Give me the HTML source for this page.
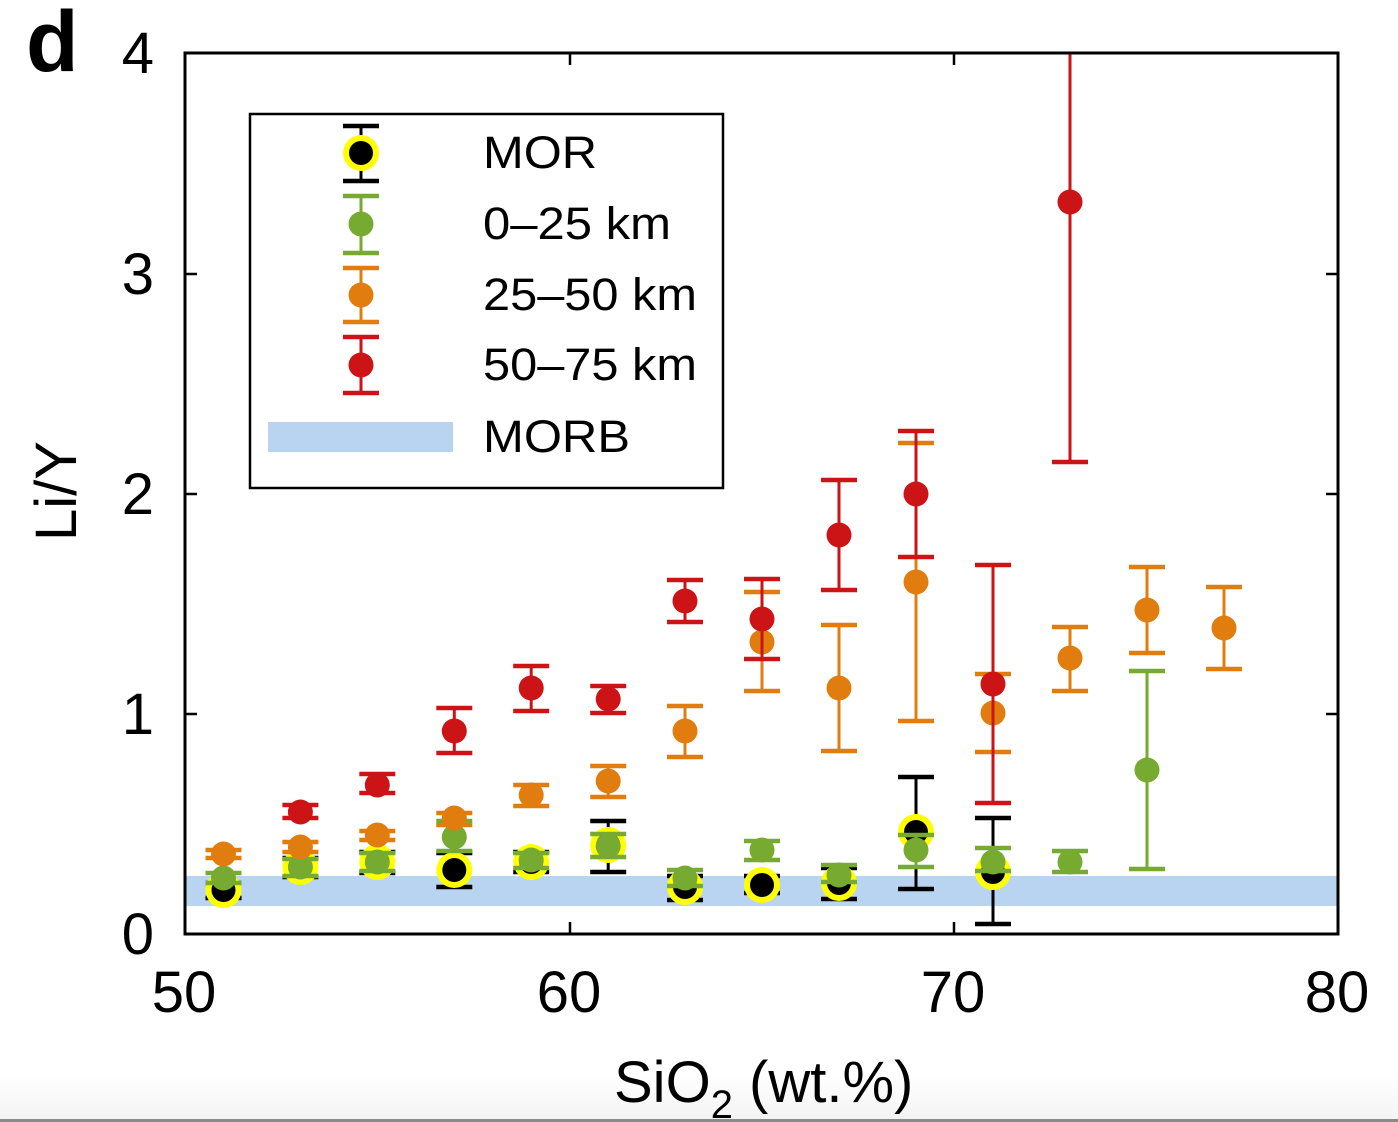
<!DOCTYPE html>
<html><head><meta charset="utf-8"><style>
html,body{margin:0;padding:0;background:#fff;}
svg{display:block;}
text{font-family:"Liberation Sans",Arial,sans-serif;fill:#000;}
</style></head><body>
<svg width="1398" height="1122" viewBox="0 0 1398 1122" xmlns="http://www.w3.org/2000/svg">
<defs>
<linearGradient id="bg" x1="0" y1="0" x2="0" y2="1"><stop offset="0" stop-color="#fff"/><stop offset="1" stop-color="#f4f4f4"/></linearGradient>
</defs>
<rect x="0" y="0" width="1398" height="1122" fill="#fff"/>
<rect x="0" y="1075" width="1398" height="44" fill="url(#bg)"/>
<rect x="0" y="1119" width="1398" height="3" fill="#8a8a8a"/>

<!-- MORB band -->
<rect x="186" y="876" width="1152" height="30" fill="#b9d4f1"/>

<!-- MOR -->
<g>
<g stroke="#000" stroke-width="3"><line x1="223.5" y1="883" x2="223.5" y2="898"/><line x1="300.4" y1="858" x2="300.4" y2="877"/><line x1="377.3" y1="852" x2="377.3" y2="873"/><line x1="454.3" y1="853" x2="454.3" y2="887"/><line x1="531.2" y1="852" x2="531.2" y2="872"/><line x1="608.2" y1="821" x2="608.2" y2="872"/><line x1="685" y1="876" x2="685" y2="900"/><line x1="762" y1="876" x2="762" y2="893"/><line x1="839" y1="868" x2="839" y2="899"/><line x1="916" y1="777" x2="916" y2="889"/><line x1="993" y1="818" x2="993" y2="924"/></g>
<g stroke="#000" stroke-width="4.5">
<line x1="205.5" y1="883" x2="241.5" y2="883"/><line x1="205.5" y1="898" x2="241.5" y2="898"/>
<line x1="282.4" y1="858" x2="318.4" y2="858"/><line x1="282.4" y1="877" x2="318.4" y2="877"/>
<line x1="359.3" y1="852" x2="395.3" y2="852"/><line x1="359.3" y1="873" x2="395.3" y2="873"/>
<line x1="436.3" y1="853" x2="472.3" y2="853"/><line x1="436.3" y1="887" x2="472.3" y2="887"/>
<line x1="513.2" y1="852" x2="549.2" y2="852"/><line x1="513.2" y1="872" x2="549.2" y2="872"/>
<line x1="590.2" y1="821" x2="626.2" y2="821"/><line x1="590.2" y1="872" x2="626.2" y2="872"/>
<line x1="667" y1="876" x2="703" y2="876"/><line x1="667" y1="900" x2="703" y2="900"/>
<line x1="744" y1="876" x2="780" y2="876"/><line x1="744" y1="893" x2="780" y2="893"/>
<line x1="821" y1="868" x2="857" y2="868"/><line x1="821" y1="899" x2="857" y2="899"/>
<line x1="898" y1="777" x2="934" y2="777"/><line x1="898" y1="889" x2="934" y2="889"/>
<line x1="975" y1="818" x2="1011" y2="818"/><line x1="975" y1="924" x2="1011" y2="924"/>
</g>
<g fill="#ffff00"><circle cx="223.5" cy="890" r="18"/><circle cx="300.4" cy="867" r="18"/><circle cx="377.3" cy="862" r="18"/><circle cx="454.3" cy="870" r="18"/><circle cx="531.2" cy="862" r="18"/><circle cx="608.2" cy="845" r="18"/><circle cx="685" cy="887" r="18"/><circle cx="762" cy="885" r="18"/><circle cx="839" cy="883" r="18"/><circle cx="916" cy="832" r="18"/><circle cx="993" cy="872" r="18"/></g>
<g fill="#000"><circle cx="223.5" cy="890" r="12"/><circle cx="300.4" cy="867" r="12"/><circle cx="377.3" cy="862" r="12"/><circle cx="454.3" cy="870" r="12"/><circle cx="531.2" cy="862" r="12"/><circle cx="608.2" cy="845" r="12"/><circle cx="685" cy="887" r="12"/><circle cx="762" cy="885" r="12"/><circle cx="839" cy="883" r="12"/><circle cx="916" cy="832" r="12"/><circle cx="993" cy="872" r="12"/></g>
</g>

<!-- Green 0-25 -->
<g stroke="#76aa30" fill="#76aa30">
<g stroke-width="3"><line x1="223.5" y1="873" x2="223.5" y2="883"/><line x1="300.4" y1="859" x2="300.4" y2="876"/><line x1="377.3" y1="853" x2="377.3" y2="871"/><line x1="454.3" y1="821" x2="454.3" y2="851"/><line x1="531.2" y1="853" x2="531.2" y2="868"/><line x1="608.2" y1="834" x2="608.2" y2="857"/><line x1="685" y1="870" x2="685" y2="886"/><line x1="762" y1="841" x2="762" y2="860"/><line x1="839" y1="865" x2="839" y2="882"/><line x1="916" y1="835" x2="916" y2="867"/><line x1="993" y1="848" x2="993" y2="871"/><line x1="1070" y1="851" x2="1070" y2="872"/><line x1="1147" y1="671" x2="1147" y2="869"/></g>
<g stroke-width="4.5">
<line x1="205.5" y1="873" x2="241.5" y2="873"/><line x1="205.5" y1="883" x2="241.5" y2="883"/>
<line x1="282.4" y1="859" x2="318.4" y2="859"/><line x1="282.4" y1="876" x2="318.4" y2="876"/>
<line x1="359.3" y1="853" x2="395.3" y2="853"/><line x1="359.3" y1="871" x2="395.3" y2="871"/>
<line x1="436.3" y1="821" x2="472.3" y2="821"/><line x1="436.3" y1="851" x2="472.3" y2="851"/>
<line x1="513.2" y1="853" x2="549.2" y2="853"/><line x1="513.2" y1="868" x2="549.2" y2="868"/>
<line x1="590.2" y1="834" x2="626.2" y2="834"/><line x1="590.2" y1="857" x2="626.2" y2="857"/>
<line x1="667" y1="870" x2="703" y2="870"/><line x1="667" y1="886" x2="703" y2="886"/>
<line x1="744" y1="841" x2="780" y2="841"/><line x1="744" y1="860" x2="780" y2="860"/>
<line x1="821" y1="865" x2="857" y2="865"/><line x1="821" y1="882" x2="857" y2="882"/>
<line x1="898" y1="835" x2="934" y2="835"/><line x1="898" y1="867" x2="934" y2="867"/>
<line x1="975" y1="848" x2="1011" y2="848"/><line x1="975" y1="871" x2="1011" y2="871"/>
<line x1="1052" y1="851" x2="1088" y2="851"/><line x1="1052" y1="872" x2="1088" y2="872"/>
<line x1="1129" y1="671" x2="1165" y2="671"/><line x1="1129" y1="869" x2="1165" y2="869"/>
</g>
<g stroke="none"><circle cx="223.5" cy="878" r="12.5"/><circle cx="300.4" cy="867" r="12.5"/><circle cx="377.3" cy="862" r="12.5"/><circle cx="454.3" cy="837" r="12.5"/><circle cx="531.2" cy="860" r="12.5"/><circle cx="608.2" cy="846" r="12.5"/><circle cx="685" cy="878" r="12.5"/><circle cx="762" cy="850" r="12.5"/><circle cx="839" cy="875" r="12.5"/><circle cx="916" cy="850" r="12.5"/><circle cx="993" cy="862" r="12.5"/><circle cx="1070" cy="862" r="12.5"/><circle cx="1147" cy="770" r="12.5"/></g>
</g>

<!-- Orange 25-50 -->
<g stroke="#e07d0e" fill="#e07d0e">
<g stroke-width="3"><line x1="223.5" y1="850" x2="223.5" y2="858"/><line x1="300.4" y1="842" x2="300.4" y2="852"/><line x1="377.3" y1="831" x2="377.3" y2="840"/><line x1="454.3" y1="813" x2="454.3" y2="825"/><line x1="531.2" y1="785" x2="531.2" y2="806"/><line x1="608.2" y1="766" x2="608.2" y2="797"/><line x1="685" y1="706" x2="685" y2="757"/><line x1="762" y1="592" x2="762" y2="691"/><line x1="839" y1="625" x2="839" y2="751"/><line x1="916" y1="443" x2="916" y2="721"/><line x1="993" y1="674" x2="993" y2="752"/><line x1="1070" y1="627" x2="1070" y2="691"/><line x1="1147" y1="567" x2="1147" y2="653"/><line x1="1224" y1="587" x2="1224" y2="669"/></g>
<g stroke-width="4.5">
<line x1="205.5" y1="850" x2="241.5" y2="850"/><line x1="205.5" y1="858" x2="241.5" y2="858"/>
<line x1="282.4" y1="842" x2="318.4" y2="842"/><line x1="282.4" y1="852" x2="318.4" y2="852"/>
<line x1="359.3" y1="831" x2="395.3" y2="831"/><line x1="359.3" y1="840" x2="395.3" y2="840"/>
<line x1="436.3" y1="813" x2="472.3" y2="813"/><line x1="436.3" y1="825" x2="472.3" y2="825"/>
<line x1="513.2" y1="785" x2="549.2" y2="785"/><line x1="513.2" y1="806" x2="549.2" y2="806"/>
<line x1="590.2" y1="766" x2="626.2" y2="766"/><line x1="590.2" y1="797" x2="626.2" y2="797"/>
<line x1="667" y1="706" x2="703" y2="706"/><line x1="667" y1="757" x2="703" y2="757"/>
<line x1="744" y1="592" x2="780" y2="592"/><line x1="744" y1="691" x2="780" y2="691"/>
<line x1="821" y1="625" x2="857" y2="625"/><line x1="821" y1="751" x2="857" y2="751"/>
<line x1="898" y1="443" x2="934" y2="443"/><line x1="898" y1="721" x2="934" y2="721"/>
<line x1="975" y1="674" x2="1011" y2="674"/><line x1="975" y1="752" x2="1011" y2="752"/>
<line x1="1052" y1="627" x2="1088" y2="627"/><line x1="1052" y1="691" x2="1088" y2="691"/>
<line x1="1129" y1="567" x2="1165" y2="567"/><line x1="1129" y1="653" x2="1165" y2="653"/>
<line x1="1206" y1="587" x2="1242" y2="587"/><line x1="1206" y1="669" x2="1242" y2="669"/>
</g>
<g stroke="none"><circle cx="223.5" cy="854" r="12.5"/><circle cx="300.4" cy="847" r="12.5"/><circle cx="377.3" cy="835" r="12.5"/><circle cx="454.3" cy="818" r="12.5"/><circle cx="531.2" cy="795" r="12.5"/><circle cx="608.2" cy="781" r="12.5"/><circle cx="685" cy="731" r="12.5"/><circle cx="762" cy="642" r="12.5"/><circle cx="839" cy="688" r="12.5"/><circle cx="916" cy="582" r="12.5"/><circle cx="993" cy="713" r="12.5"/><circle cx="1070" cy="658" r="12.5"/><circle cx="1147" cy="610" r="12.5"/><circle cx="1224" cy="628" r="12.5"/></g>
</g>

<!-- Red 50-75 -->
<g stroke="#cc1316" fill="#cc1316">
<g stroke-width="3"><line x1="300.4" y1="805" x2="300.4" y2="818"/><line x1="377.3" y1="774" x2="377.3" y2="793"/><line x1="454.3" y1="708" x2="454.3" y2="753"/><line x1="531.2" y1="666" x2="531.2" y2="711"/><line x1="608.2" y1="686" x2="608.2" y2="713"/><line x1="685" y1="580" x2="685" y2="622"/><line x1="762" y1="579" x2="762" y2="659"/><line x1="839" y1="480" x2="839" y2="590"/><line x1="916" y1="431" x2="916" y2="557"/><line x1="993" y1="565" x2="993" y2="803"/><line x1="1070" y1="53" x2="1070" y2="462"/></g>
<g stroke-width="4.5">
<line x1="282.4" y1="805" x2="318.4" y2="805"/><line x1="282.4" y1="818" x2="318.4" y2="818"/>
<line x1="359.3" y1="774" x2="395.3" y2="774"/><line x1="359.3" y1="793" x2="395.3" y2="793"/>
<line x1="436.3" y1="708" x2="472.3" y2="708"/><line x1="436.3" y1="753" x2="472.3" y2="753"/>
<line x1="513.2" y1="666" x2="549.2" y2="666"/><line x1="513.2" y1="711" x2="549.2" y2="711"/>
<line x1="590.2" y1="686" x2="626.2" y2="686"/><line x1="590.2" y1="713" x2="626.2" y2="713"/>
<line x1="667" y1="580" x2="703" y2="580"/><line x1="667" y1="622" x2="703" y2="622"/>
<line x1="744" y1="579" x2="780" y2="579"/><line x1="744" y1="659" x2="780" y2="659"/>
<line x1="821" y1="480" x2="857" y2="480"/><line x1="821" y1="590" x2="857" y2="590"/>
<line x1="898" y1="431" x2="934" y2="431"/><line x1="898" y1="557" x2="934" y2="557"/>
<line x1="975" y1="565" x2="1011" y2="565"/><line x1="975" y1="803" x2="1011" y2="803"/>
<line x1="1052" y1="462" x2="1088" y2="462"/>
</g>
<g stroke="none"><circle cx="300.4" cy="812" r="12.5"/><circle cx="377.3" cy="785" r="12.5"/><circle cx="454.3" cy="731" r="12.5"/><circle cx="531.2" cy="688" r="12.5"/><circle cx="608.2" cy="699" r="12.5"/><circle cx="685" cy="601" r="12.5"/><circle cx="762" cy="619" r="12.5"/><circle cx="839" cy="535" r="12.5"/><circle cx="916" cy="494" r="12.5"/><circle cx="993" cy="684" r="12.5"/><circle cx="1070" cy="202" r="12.5"/></g>
</g>

<!-- Axes frame -->
<rect x="185" y="53" width="1153" height="881" fill="none" stroke="#000" stroke-width="3"/>
<g stroke="#000" stroke-width="2.5">
<line x1="570" y1="934" x2="570" y2="922"/><line x1="954" y1="934" x2="954" y2="922"/>
<line x1="570" y1="53" x2="570" y2="65"/><line x1="954" y1="53" x2="954" y2="65"/>
<line x1="185" y1="274" x2="197" y2="274"/><line x1="185" y1="494" x2="197" y2="494"/><line x1="185" y1="714" x2="197" y2="714"/>
<line x1="1338" y1="274" x2="1326" y2="274"/><line x1="1338" y1="494" x2="1326" y2="494"/><line x1="1338" y1="714" x2="1326" y2="714"/>
</g>

<!-- Tick labels -->
<g font-size="58" text-anchor="end">
<text x="154" y="73">4</text>
<text x="154" y="294">3</text>
<text x="154" y="514">2</text>
<text x="154" y="734">1</text>
<text x="154" y="954">0</text>
</g>
<g font-size="58" text-anchor="middle">
<text x="184" y="1012">50</text>
<text x="569" y="1012">60</text>
<text x="953" y="1012">70</text>
<text x="1337" y="1012">80</text>
</g>

<!-- Axis titles -->
<text x="614" y="1102" font-size="58">SiO<tspan font-size="40" dy="16">2</tspan><tspan dy="-16"> (wt.%)</tspan></text>
<text transform="translate(76,491) rotate(-90)" font-size="58" text-anchor="middle">Li/Y</text>
<text x="26" y="71" font-size="86" font-weight="bold">d</text>

<!-- Legend -->
<rect x="250" y="114" width="473" height="374" fill="#fff" stroke="#000" stroke-width="2.5"/>
<g stroke="#000"><line x1="361" y1="126" x2="361" y2="181" stroke-width="3"/><line x1="343" y1="126" x2="379" y2="126" stroke-width="4.5"/><line x1="343" y1="181" x2="379" y2="181" stroke-width="4.5"/></g>
<circle cx="361" cy="153" r="18" fill="#ffff00"/><circle cx="361" cy="153" r="12" fill="#000"/>
<g stroke="#76aa30"><line x1="361" y1="196" x2="361" y2="253" stroke-width="3"/><line x1="343" y1="196" x2="379" y2="196" stroke-width="4.5"/><line x1="343" y1="253" x2="379" y2="253" stroke-width="4.5"/></g>
<circle cx="361" cy="224" r="12.5" fill="#76aa30"/>
<g stroke="#e07d0e"><line x1="361" y1="268" x2="361" y2="322" stroke-width="3"/><line x1="343" y1="268" x2="379" y2="268" stroke-width="4.5"/><line x1="343" y1="322" x2="379" y2="322" stroke-width="4.5"/></g>
<circle cx="361" cy="295" r="12.5" fill="#e07d0e"/>
<g stroke="#cc1316"><line x1="361" y1="337" x2="361" y2="393" stroke-width="3"/><line x1="343" y1="337" x2="379" y2="337" stroke-width="4.5"/><line x1="343" y1="393" x2="379" y2="393" stroke-width="4.5"/></g>
<circle cx="361" cy="365" r="12.5" fill="#cc1316"/>
<rect x="268" y="422" width="185" height="30" fill="#b9d4f1"/>
<g font-size="45">
<text x="483" y="168" textLength="114" lengthAdjust="spacingAndGlyphs">MOR</text>
<text x="483" y="239" textLength="188" lengthAdjust="spacingAndGlyphs">0–25 km</text>
<text x="483" y="310" textLength="214" lengthAdjust="spacingAndGlyphs">25–50 km</text>
<text x="483" y="380" textLength="214" lengthAdjust="spacingAndGlyphs">50–75 km</text>
<text x="483" y="452" textLength="147" lengthAdjust="spacingAndGlyphs">MORB</text>
</g>
</svg>
</body></html>
